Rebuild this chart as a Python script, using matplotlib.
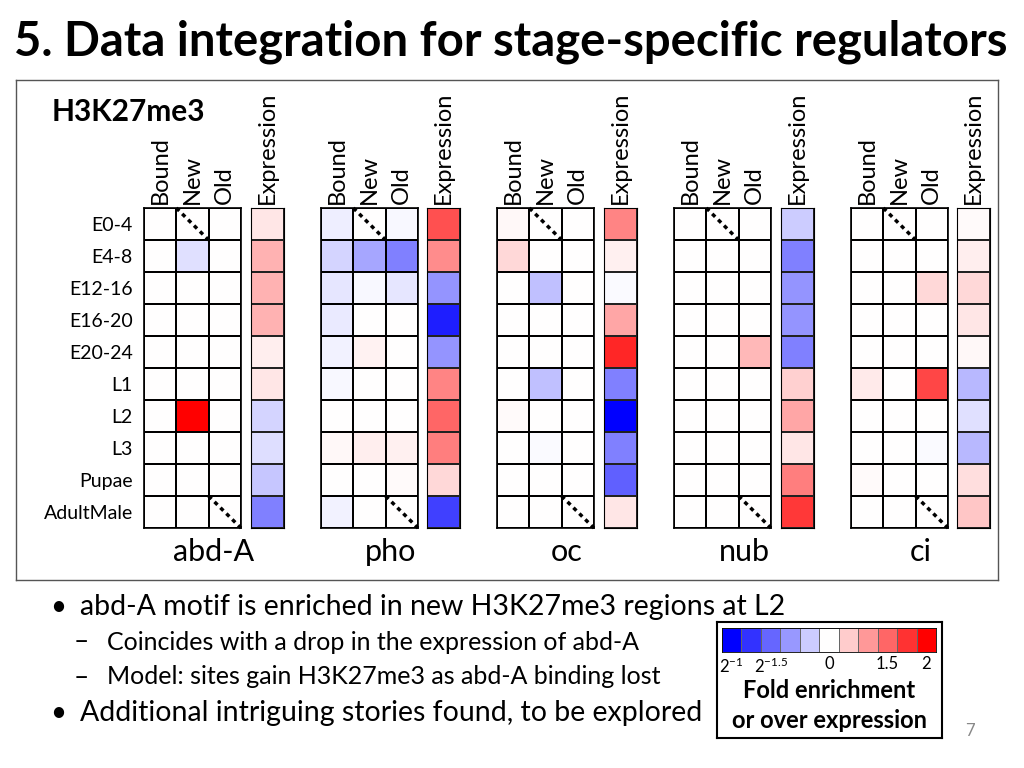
import matplotlib
matplotlib.use("Agg")
import matplotlib.pyplot as plt
import numpy as np
from matplotlib.colors import LinearSegmentedColormap

plt.rcParams['font.family'] = ['Lato', 'DejaVu Sans']
plt.rcParams['mathtext.fontset'] = 'custom'
plt.rcParams['mathtext.rm'] = 'Lato'
plt.rcParams['mathtext.it'] = 'Lato'

W, H = 1024, 768

stages = ['E0-4', 'E4-8', 'E12-16', 'E16-20', 'E20-24', 'L1', 'L2', 'L3', 'Pupae', 'AdultMale']
genes = ['abd-A', 'pho', 'oc', 'nub', 'ci']
peak_cols = ['Bound', 'New', 'Old']

# signed colour level, -1 = full blue (2^-1), +1 = full red (2)
abdA_bound = [0, 0, 0, 0, 0, 0, 0, 0, 0, 0]
abdA_new = [0, -0.12, 0, 0, 0, 0, 1.0, 0, 0, 0]
abdA_old = [0, 0, 0, 0, 0, 0, 0, 0, 0, 0]
abdA_expr = [0.1, 0.3, 0.3, 0.3, 0.07, 0.1, -0.17, -0.13, -0.22, -0.5]

pho_bound = [-0.07, -0.17, -0.1, -0.08, -0.05, -0.03, 0, 0.03, 0, -0.05]
pho_new = [0, -0.35, -0.03, 0, 0.05, 0, 0, 0.07, 0, 0]
pho_old = [-0.03, -0.5, -0.1, 0, 0, 0, 0, 0.06, 0.02, 0]
pho_expr = [0.68, 0.45, -0.42, -0.88, -0.42, 0.48, 0.6, 0.5, 0.15, -0.75]

oc_bound = [0.03, 0.15, 0, 0, 0, 0, 0.02, 0, 0, 0]
oc_new = [0, 0, -0.25, 0, 0, -0.25, 0, -0.02, 0, 0]
oc_old = [0, 0, 0, 0, 0, 0, 0, 0, 0, 0]
oc_expr = [0.48, 0.06, -0.02, 0.35, 0.85, -0.5, -1.0, -0.5, -0.62, 0.1]

nub_bound = [0, 0, 0, 0, 0, 0, 0, 0, 0, 0]
nub_new = [0, 0, 0, 0, 0, 0, 0, 0, 0, 0]
nub_old = [0, 0, 0, 0, 0.28, 0, 0, 0, 0, 0]
nub_expr = [-0.2, -0.5, -0.42, -0.42, -0.5, 0.18, 0.35, 0.1, 0.5, 0.78]

ci_bound = [0, 0, 0, 0, 0, 0.08, 0, 0, 0.02, 0]
ci_new = [0, 0, 0, 0, 0, 0, 0, 0, 0, 0]
ci_old = [0, 0, 0.15, 0, 0, 0.72, 0, -0.02, 0, 0]
ci_expr = [0.02, 0.07, 0.15, 0.1, 0.03, -0.28, -0.12, -0.28, 0.13, 0.22]

peaks = {
    'abd-A': [abdA_bound, abdA_new, abdA_old],
    'pho': [pho_bound, pho_new, pho_old],
    'oc': [oc_bound, oc_new, oc_old],
    'nub': [nub_bound, nub_new, nub_old],
    'ci': [ci_bound, ci_new, ci_old],
}
expr = {'abd-A': abdA_expr, 'pho': pho_expr, 'oc': oc_expr, 'nub': nub_expr, 'ci': ci_expr}

legend_levels = np.linspace(-1, 1, 11)
legend_ticks = [r'$2^{-1}$', r'$2^{-1.5}$', '0', '1.5', '2']
legend_tick_pos = [0.5, 2.5, 5.5, 8.5, 10.5]

cmap = LinearSegmentedColormap.from_list('bwr_pp', [(0, 0, 1), (1, 1, 1), (1, 0, 0)])


def px(x0, y0, x1, y1):
    return [x0 / W, 1 - y1 / H, (x1 - x0) / W, (y1 - y0) / H]


def ftext(x, y, s, **kw):
    fig.text(x / W, 1 - y / H, s, **kw)


fig = plt.figure(figsize=(10.24, 7.68), dpi=100)

# title
ftext(14, 42, '5. Data integration for stage-specific regulators', fontsize=34,
      fontweight='bold', va='center', ha='left')

# frame around the chart
frame = fig.add_axes(px(16, 80, 998, 580))
frame.set_xticks([])
frame.set_yticks([])
for s in frame.spines.values():
    s.set_color('#555555')
    s.set_linewidth(1)
frame.set_zorder(-1)

ftext(52, 112, 'H3K27me3', fontsize=21.5, fontweight='bold', va='center')

# block positions (pixels)
peak_x = [144, 321, 497, 674, 851]
expr_x = [251, 427, 604, 781, 957]
top, bottom = 208, 528
cw = 32.3

for i, g in enumerate(genes):
    ax = fig.add_axes(px(peak_x[i], top, peak_x[i] + 3 * cw, bottom))
    data = np.array(peaks[g]).T
    ax.pcolormesh(data, cmap=cmap, vmin=-1, vmax=1, edgecolors='black', linewidth=1.2)
    ax.set_xlim(0, 3)
    ax.set_ylim(len(stages), 0)
    # dotted diagonals: New at first stage, Old at last stage
    ax.plot([1, 2], [0, 1], color='black', linestyle=(0, (1.2, 1.2)), linewidth=2.5, clip_on=False)
    ax.plot([2, 3], [9, 10], color='black', linestyle=(0, (1.2, 1.2)), linewidth=2.5, clip_on=False)
    ax.set_xticks(np.arange(3) + 0.5)
    ax.set_xticklabels(peak_cols, rotation=90, fontsize=17)
    ax.xaxis.tick_top()
    ax.tick_params(length=0, pad=3)
    if i == 0:
        ax.set_yticks(np.arange(len(stages)) + 0.5)
        ax.set_yticklabels(stages, fontsize=14)
        ax.tick_params(axis='y', pad=8)
    else:
        ax.set_yticks([])
    for s in ax.spines.values():
        s.set_linewidth(1.2)

    ex = fig.add_axes(px(expr_x[i], top, expr_x[i] + 33, bottom))
    ex.pcolormesh(np.array(expr[g])[:, None], cmap=cmap, vmin=-1, vmax=1,
                  edgecolors='#222222', linewidth=1.2)
    ex.set_ylim(len(stages), 0)
    ex.set_xticks([0.5])
    ex.set_xticklabels(['Expression'], rotation=90, fontsize=17)
    ex.xaxis.tick_top()
    ex.tick_params(length=0, pad=3)
    ex.set_yticks([])

    cx = (peak_x[i] + expr_x[i] + 33) / 2
    ftext(cx, 552, g, fontsize=22, ha='center', va='center')

# bullets
ftext(50, 607, '•', fontsize=20, va='center')
ftext(80, 607, 'abd-A motif is enriched in new H3K27me3 regions at L2', fontsize=20.5, va='center')
ftext(74, 642, '\u2013', fontsize=19, va='center')
ftext(107, 642, 'Coincides with a drop in the expression of abd-A', fontsize=18, va='center')
ftext(74, 677, '\u2013', fontsize=19, va='center')
ftext(107, 677, 'Model: sites gain H3K27me3 as abd-A binding lost', fontsize=18, va='center')
ftext(50, 713, '•', fontsize=20, va='center')
ftext(80, 713, 'Additional intriguing stories found, to be explored', fontsize=20.5, va='center')

# legend box
lb = fig.add_axes(px(717, 622, 942, 738))
lb.set_xticks([])
lb.set_yticks([])
for s in lb.spines.values():
    s.set_linewidth(1.5)
lc = fig.add_axes(px(722, 628, 936, 652))
lc.pcolormesh(legend_levels[None, :], cmap=cmap, vmin=-1, vmax=1, edgecolors='#666666', linewidth=0.6)
lc.set_xticks(legend_tick_pos)
lc.set_xticklabels(legend_ticks, fontsize=12)
lc.set_yticks([])
lc.tick_params(length=0, pad=3)
for s in lc.spines.values():
    s.set_linewidth(0.6)
ftext(829, 691, 'Fold enrichment', fontsize=17, fontweight='bold', ha='center', va='center')
ftext(829, 721, 'or over expression', fontsize=17, fontweight='bold', ha='center', va='center')

ftext(970, 731, '7', fontsize=12, color='#888888', ha='center', va='center')

fig.savefig('out.png', dpi=100)
